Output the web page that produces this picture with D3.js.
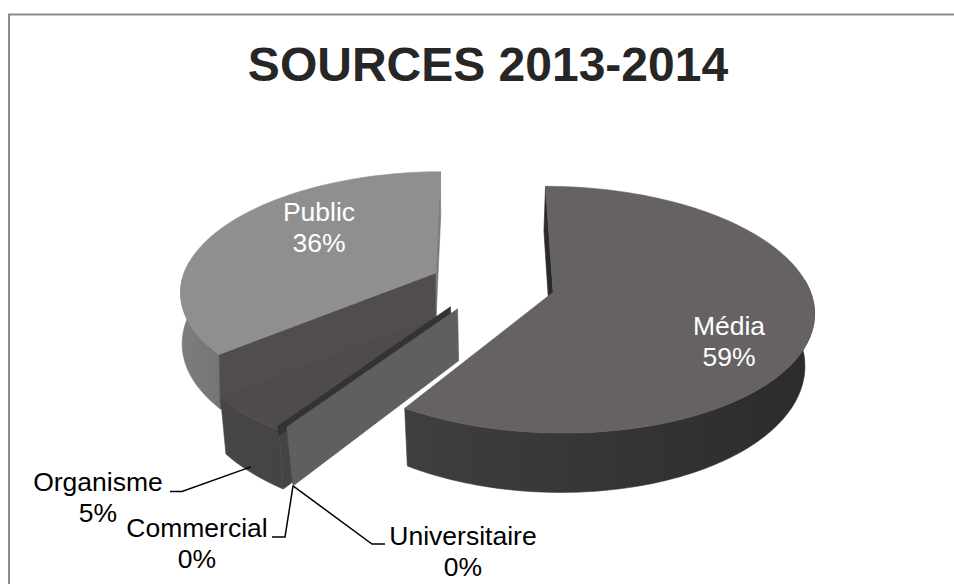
<!DOCTYPE html>
<html>
<head>
<meta charset="utf-8">
<script src="https://cdn.jsdelivr.net/npm/d3@7/dist/d3.min.js"></script>
<style>
  html, body { margin: 0; padding: 0; background: #fff; }
  svg { display: block; }
  text { font-family: "Liberation Sans", Arial, sans-serif; }
</style>
</head>
<body>
<svg id="chart" width="954" height="584"></svg>
<script>
// Share of sources by category, in pie order (clockwise from the top).
const categories = ["Média", "Universitaire", "Commercial", "Organisme", "Public"];
const shares = [59, 0, 0, 5, 36];
const chartTitle = "SOURCES 2013-2014";

// View of the tilted pie.
const view = { cx: 492, cy: 285, radius: 255, tilt: 0.465, persp: 0.14, depth: 50.5, startDeg: -0.5 };

// Per-slice pull-out from the pie centre, vertical lift, small rotation, base narrowing, and fills.
const explode = { "Média": 63, "Universitaire": 60, "Commercial": 72, "Organisme": 60, "Public": 63 };
const lift = { "Média": -1, "Universitaire": 0, "Commercial": -7, "Organisme": 7, "Public": 0 };
const turnDeg = { "Média": 0.5, "Universitaire": 2, "Commercial": 2, "Organisme": 2, "Public": 0 };
const shrink = { "Média": 0.03, "Universitaire": 0.03, "Commercial": 0.03, "Organisme": 0.02, "Public": 0.005 };
const fills = {
  "Média": { top: "#666264", wallA: "#3f3f3f", wallB: "#2b2b2b", cut: "#2a2a2a" },
  "Universitaire": { top: "#5e5e5e", wallA: "#5e5e5e", wallB: "#5e5e5e", cut: "#5f5f5f" },
  "Commercial": { top: "#333333", wallA: "#333333", wallB: "#333333", cut: "#333333" },
  "Organisme": { top: "#4f4b4c", wallA: "#474547", wallB: "#454345", cut: "#454345" },
  "Public": { top: "#8f8f8f", wallA: "#7d7d7d", wallB: "#757575", cut: "#514d4e", cutRight: "#7c7c7c" }
};

// Label blocks: anchor of the text, and the horizontal foot of the leader when there is one.
const labelLayout = {
  "Média": { x: 729, y: 335, color: "#fff" },
  "Public": { x: 319, y: 221, color: "#fff" },
  "Organisme": { x: 98, y: 491, color: "#000", foot: [[170, 491.5], [182, 491.5]] },
  "Commercial": { x: 197, y: 537, color: "#000", foot: [[272, 537], [285, 537]] },
  "Universitaire": { x: 463, y: 545, color: "#000", foot: [[385, 544], [372, 544]] }
};

const svg = d3.select("#chart");

// Chart frame: its right and bottom edges run past the page.
svg.append("rect")
  .attr("x", 9).attr("y", 14.5).attr("width", 1000).attr("height", 620)
  .attr("fill", "#fff").attr("stroke", "#8c8c8c").attr("stroke-width", 2);

svg.append("text")
  .attr("x", 488).attr("y", 81)
  .attr("text-anchor", "middle")
  .attr("font-size", 48).attr("font-weight", "bold").attr("fill", "#262626")
  .text(chartTitle);

const pie = d3.pie().sort(null).value(d => d.share)
  .startAngle(view.startDeg * Math.PI / 180)
  .endAngle((view.startDeg + 360) * Math.PI / 180);

const arcs = pie(categories.map((name, i) => ({ name, share: shares[i] })))
  .map(a => {
    const t = turnDeg[a.data.name] * Math.PI / 180;
    return { ...a, startAngle: a.startAngle + t, endAngle: a.endAngle + t };
  });
const byName = Object.fromEntries(arcs.map(a => [a.data.name, a]));

// Projects a point of the pie plane; h runs from 0 on the top face to 1 on the base.
function project(X, Y, h, extraY, narrow) {
  const s = 1 / (1 - view.persp * Y / view.radius);
  return [
    view.cx + X * s * (1 - narrow * h),
    view.cy + Y * view.tilt * s + view.depth * h * s + extraY
  ];
}

function sliceFrame(a) {
  const name = a.data.name;
  const mid = (a.startAngle + a.endAngle) / 2;
  const e = explode[name];
  const ox = Math.sin(mid) * e, oy = -Math.cos(mid) * e;
  return {
    apex: h => project(ox, oy, h, lift[name], shrink[name]),
    rim: (ang, h) => project(ox + Math.sin(ang) * view.radius, oy - Math.cos(ang) * view.radius, h, lift[name], shrink[name])
  };
}

const line = d3.line();
const defs = svg.append("defs");
const gPie = svg.append("g");

function poly(points, fill) {
  gPie.append("path").attr("d", line(points) + "Z")
    .attr("fill", fill).attr("stroke", fill).attr("stroke-width", 0.6).attr("stroke-linejoin", "round");
}

function sampleAngles(a) {
  const n = Math.max(2, Math.ceil((a.endAngle - a.startAngle) * 40));
  return d3.range(n + 1).map(i => a.startAngle + (a.endAngle - a.startAngle) * i / n);
}

function drawRadialWall(a, ang, fill, h = 1) {
  const f = sliceFrame(a);
  poly([f.apex(0), f.rim(ang, 0), f.rim(ang, h), f.apex(h)], fill);
}

function drawOuterWall(a, key) {
  const f = sliceFrame(a), c = fills[a.data.name];
  const angs = sampleAngles(a);
  const grad = defs.append("linearGradient").attr("id", "wall" + key);
  grad.append("stop").attr("offset", "0%").attr("stop-color", c.wallA);
  grad.append("stop").attr("offset", "100%").attr("stop-color", c.wallB);
  // Only the part of the rim turned to the viewer is visible.
  const front = angs.filter(t => Math.cos(t) < 0.12);
  poly(front.map(t => f.rim(t, 0)).concat(front.slice().reverse().map(t => f.rim(t, 1))), "url(#wall" + key + ")");
}

function drawTop(a) {
  const f = sliceFrame(a);
  poly([f.apex(0)].concat(sampleAngles(a).map(t => f.rim(t, 0))), fills[a.data.name].top);
}

// Back to front: Public, then the pulled-out narrow slices, then Média.
const pub = byName["Public"];
drawRadialWall(pub, pub.endAngle, fills["Public"].cutRight);
drawOuterWall(pub, "P");
drawRadialWall(pub, pub.startAngle, fills["Public"].cut);
drawTop(pub);

const org = byName["Organisme"];
drawRadialWall(org, org.startAngle, fills["Organisme"].cut);
drawOuterWall(org, "O");
drawTop(org);

// The Commercial wall only shows as a thin band above the Universitaire wall.
const com = byName["Commercial"];
drawRadialWall(com, com.startAngle, fills["Commercial"].cut, 0.16);

const uni = byName["Universitaire"];
drawRadialWall(uni, uni.startAngle, fills["Universitaire"].cut);

const med = byName["Média"];
drawRadialWall(med, med.startAngle, fills["Média"].cut);
drawOuterWall(med, "M");
drawTop(med);

// Labels: name over rounded percentage, with leaders for the slices too small to hold text.
const fmt = d => d3.format(".0f")(d) + "%";
arcs.forEach(a => {
  const l = labelLayout[a.data.name];
  const t = svg.append("text").attr("text-anchor", "middle").attr("font-size", 26.5).attr("fill", l.color);
  t.append("tspan").attr("x", l.x).attr("y", l.y).text(a.data.name);
  t.append("tspan").attr("x", l.x).attr("y", l.y + 31).text(fmt(a.data.share));

  if (l.foot) {
    // Empty slices share the base corner of the Universitaire wall.
    const end = a.data.share > 0
      ? sliceFrame(a).rim((a.startAngle + a.endAngle) / 2, 0.9)
      : sliceFrame(uni).rim(uni.startAngle, 1);
    svg.append("path")
      .attr("d", line([l.foot[0], l.foot[1], end]))
      .attr("fill", "none").attr("stroke", "#000").attr("stroke-width", 1.5);
  }
});
</script>
</body>
</html>
